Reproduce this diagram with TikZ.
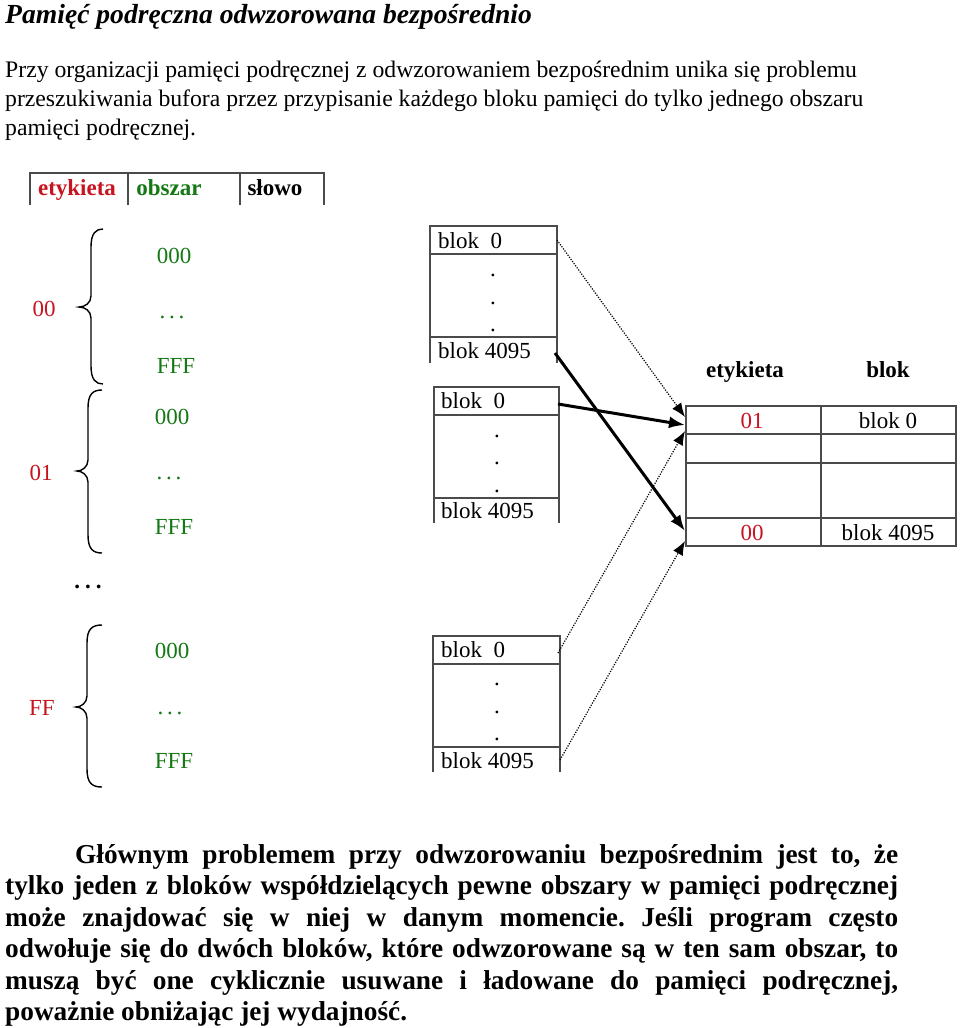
\documentclass[tikz,border=0pt]{standalone}
\usepackage{fontspec}
\setmainfont{Liberation Serif}
\usetikzlibrary{arrows.meta}
\definecolor{rd}{RGB}{200,20,30}
\definecolor{gr}{RGB}{20,120,20}
\definecolor{ln}{RGB}{75,75,75}
\newcommand{\mybrace}[6]{%
  \draw[bracestyle] (#1,#4) .. controls ({#2+5},#4) and (#2,{#4+4}) .. (#2,{#4+18})
    -- (#2,{#5-11}) .. controls (#2,{#5-4}) and ({#2-6},#5) .. (#3,#5)
    .. controls ({#2-6},#5) and (#2,{#5+4}) .. (#2,{#5+11})
    -- (#2,{#6-18}) .. controls (#2,{#6-4}) and ({#2+5},#6) .. (#1,#6);}
\frenchspacing
\begin{document}
\begin{tikzpicture}[x=1pt,y=-1pt,
  txt/.style={inner sep=0pt, anchor=base, font=\fontsize{23}{28}\selectfont},
  txtl/.style={inner sep=0pt, anchor=base west, font=\fontsize{23}{28}\selectfont},
  intro/.style={inner sep=0pt, anchor=base west, font=\fontsize{23.7}{28}\selectfont},
  hdr/.style={inner sep=0pt, anchor=base, font=\fontsize{23}{28}\selectfont\bfseries},
  body/.style={inner sep=0pt, anchor=base west, font=\fontsize{27.3}{31}\selectfont\bfseries\frenchspacing},
  frame/.style={draw=ln, line width=1.4pt},
  bracestyle/.style={line width=1.4pt, black},
  thickarrow/.style={line width=3pt, -{Latex[length=16pt,width=12pt]}},
  dotarrow/.style={line width=1.2pt, dash pattern=on 1.2pt off 1.4pt, -{Latex[length=14pt,width=11pt]}}]
\useasboundingbox (0,0) rectangle (960,1028);

% title and intro
\node[inner sep=0pt, anchor=base west, font=\fontsize{27.6}{30}\selectfont\bfseries\itshape] (title) at (5,23) {Pamięć podręczna odwzorowana bezpośrednio};
\node[intro] (p1) at (5,77) {Przy organizacji pamięci podręcznej z odwzorowaniem bezpośrednim unika się problemu};
\node[intro] (p2) at (5,106) {przeszukiwania bufora przez przypisanie każdego bloku pamięci do tylko jednego obszaru};
\node[intro] (p3) at (5,135) {pamięci podręcznej.};

% address format
\draw[frame] (30,205) -- (30,173) -- (324,173) -- (324,205);
\draw[frame] (128,173) -- (128,205);
\draw[frame] (240,173) -- (240,205);
\node[hdr, text=rd] (fet) at (77,195) {etykieta};
\node[hdr, text=gr] (fob) at (169,195) {obszar};
\node[hdr] (fsl) at (275,195) {słowo};

% left labels and braces
\node[txt, text=rd] (t00) at (44,316) {00};
\node[txt, text=rd] (t01) at (41,480) {01};
\node[txt, text=rd] (tFF) at (42,715) {FF};
\mybrace{103}{91}{79}{229}{307}{384}
\mybrace{102}{88}{77}{390}{471}{553}
\mybrace{102}{87}{76}{625}{707}{787}
\node[txt, text=gr] (a1) at (174,263) {000};
\node[txt, text=gr] (a2) at (172,318) {.\,.\,.};
\node[txt, text=gr] (a3) at (176,373) {FFF};
\node[txt, text=gr] (b1) at (172,424) {000};
\node[txt, text=gr] (b2) at (169,479) {.\,.\,.};
\node[txt, text=gr] (b3) at (174,534) {FFF};
\node[txt, text=gr] (c1) at (172,658) {000};
\node[txt, text=gr] (c2) at (170,714) {.\,.\,.};
\node[txt, text=gr] (c3) at (174,768) {FFF};
\node[txt, font=\fontsize{23}{28}\selectfont\bfseries] (gap) at (88,588) {.\hspace{5pt}.\hspace{5pt}.};

% memory blocks
\draw[frame] (430,363) -- (430,226) -- (557,226) -- (557,363);
\draw[frame] (430,254) -- (557,254);
\draw[frame] (430,337) -- (557,337);
\node[txtl] (m1a) at (438,248) {blok\ \ 0};
\node[txt] (m1d1) at (493,276) {.};
\node[txt] (m1d2) at (493,304) {.};
\node[txt] (m1d3) at (493,331) {.};
\node[txtl] (m1b) at (438,358) {blok 4095};

\draw[frame] (434,523) -- (434,387) -- (559,387) -- (559,523);
\draw[frame] (434,415) -- (559,415);
\draw[frame] (434,498) -- (559,498);
\node[txtl] (m2a) at (441,408) {blok\ \ 0};
\node[txt] (m2d1) at (497,437) {.};
\node[txt] (m2d2) at (497,464) {.};
\node[txt] (m2d3) at (497,492) {.};
\node[txtl] (m2b) at (441,518) {blok 4095};

\draw[frame] (433,772) -- (433,636) -- (560,636) -- (560,772);
\draw[frame] (433,664) -- (560,664);
\draw[frame] (433,747) -- (560,747);
\node[txtl] (m3a) at (441,657) {blok\ \ 0};
\node[txt] (m3d1) at (497,685) {.};
\node[txt] (m3d2) at (497,713) {.};
\node[txt] (m3d3) at (497,740) {.};
\node[txtl] (m3b) at (441,768) {blok 4095};

% cache table
\node[hdr] (ce) at (745,377) {etykieta};
\node[hdr] (cb) at (888,377) {blok};
\draw[frame] (686,406) rectangle (956,546);
\draw[frame] (686,434) -- (956,434);
\draw[frame] (686,463) -- (956,463);
\draw[frame] (686,518) -- (956,518);
\draw[frame] (821,406) -- (821,546);
\node[txt, text=rd] (r1t) at (752,428) {01};
\node[txt] (r1b) at (888,428) {blok 0};
\node[txt, text=rd] (r4t) at (752,540) {00};
\node[txt] (r4b) at (888,540) {blok 4095};

% connectors
\coordinate (s1) at (557,240);
\coordinate (s2) at (558,404);
\coordinate (s3) at (555,353);
\coordinate (s4) at (558,653);
\coordinate (s5) at (560,760);
\coordinate (e1) at (685,417);
\coordinate (e2) at (685,425);
\coordinate (e4) at (685,431);
\coordinate (e3) at (685,531);
\coordinate (e5) at (685,541);
\draw[dotarrow] (s1) -- (e1);
\draw[thickarrow] (s2) -- (e2);
\draw[dotarrow] (s4) -- (e4);
\draw[thickarrow] (s3) -- (e3);
\draw[dotarrow] (s5) -- (e5);

% bottom paragraph
\node[body] (q1) at (75,863) {\makebox[823pt][s]{Głównym problemem przy odwzorowaniu bezpośrednim jest to, że}};
\node[body] (q2) at (5,894) {\makebox[893pt][s]{tylko jeden z bloków współdzielących pewne obszary w pamięci podręcznej}};
\node[body] (q3) at (5,926) {\makebox[893pt][s]{może znajdować się w niej w danym momencie. Jeśli program często}};
\node[body] (q4) at (5,957) {\makebox[893pt][s]{odwołuje się do dwóch bloków, które odwzorowane są w ten sam obszar, to}};
\node[body] (q5) at (5,989) {\makebox[893pt][s]{muszą być one cyklicznie usuwane i ładowane do pamięci podręcznej,}};
\node[body] (q6) at (5,1020) {poważnie obniżając jej wydajność.};
\end{tikzpicture}
\end{document}
